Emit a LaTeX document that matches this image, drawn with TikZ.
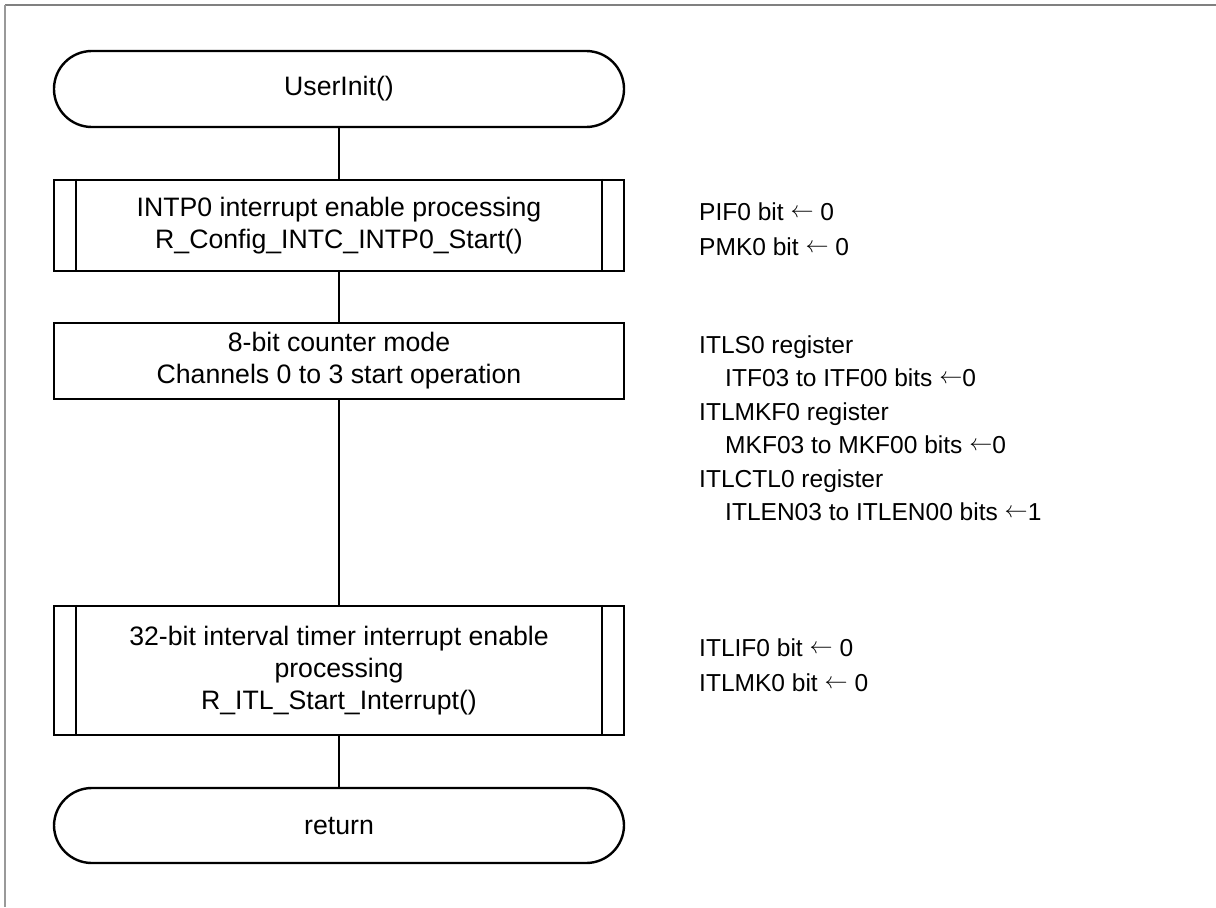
\documentclass[tikz,border=0pt]{standalone}
\usepackage{fontspec}
\setmainfont{Liberation Sans}
\newcommand{\myarrow}{\raisebox{0.12em}{\fontsize{18}{18}\selectfont$\leftarrow$}}
\begin{document}
\begin{tikzpicture}[x=0.75pt,y=-0.75pt,line width=1.8pt,
  flowbox/.style={draw,minimum width=427.5pt,inner sep=0pt,align=center,font=\fontsize{20}{24}\selectfont},
  term/.style={flowbox,rounded corners=28.4pt},
  note/.style={anchor=base west,inner sep=0pt,font=\fontsize{18.4}{25}\selectfont},
  link/.style={draw,line width=1.8pt}]
\useasboundingbox (0,0) rectangle (1216,907);
% frame
\draw[line width=1.5pt,color=black!50] (5,5) -- (1216,5);
\draw[line width=0.8pt,color=black!40] (5,5) -- (5,907);
% flow
\node[term,minimum height=57pt] (t1) at (339,89) {UserInit()};
\node[flowbox,minimum height=68.25pt] (b1) at (339,225.5) {INTP0 interrupt enable processing\\R\_Config\_INTC\_INTP0\_Start()};
\node[flowbox,minimum height=57pt] (b2) at (339,361) {8-bit counter mode\\Channels 0 to 3 start operation};
\node[flowbox,minimum height=96.75pt] (b3) at (339,670.5) {32-bit interval timer interrupt enable\\processing\\R\_ITL\_Start\_Interrupt()};
\node[term,minimum height=56.25pt] (t2) at (339,825.5) {return};
\foreach \b in {b1,b3}{
  \draw ([xshift=17.25pt]\b.north west) -- ([xshift=17.25pt]\b.south west);
  \draw ([xshift=-17.25pt]\b.north east) -- ([xshift=-17.25pt]\b.south east);
}
\path[link] (t1) -- (b1);
\path[link] (b1) -- (b2);
\path[link] (b2) -- (b3);
\path[link] (b3) -- (t2);
% notes
\node[note] (n1) at (698,220) {PIF0 bit \myarrow{} 0};
\node[note] (n2) at (698,255) {PMK0 bit \myarrow{} 0};
\node[note] (n3) at (698,353) {ITLS0 register};
\node[note] (n4) at (724,386.5) {ITF03 to ITF00 bits \myarrow0};
\node[note] (n5) at (698,420) {ITLMKF0 register};
\node[note] (n6) at (724,453.5) {MKF03 to MKF00 bits \myarrow0};
\node[note] (n7) at (698,487) {ITLCTL0 register};
\node[note] (n8) at (724,520.5) {ITLEN03 to ITLEN00 bits \myarrow1};
\node[note] (n9) at (698,656.7) {ITLIF0 bit \myarrow{} 0};
\node[note] (n10) at (698,691.7) {ITLMK0 bit \myarrow{} 0};
\end{tikzpicture}
\end{document}
